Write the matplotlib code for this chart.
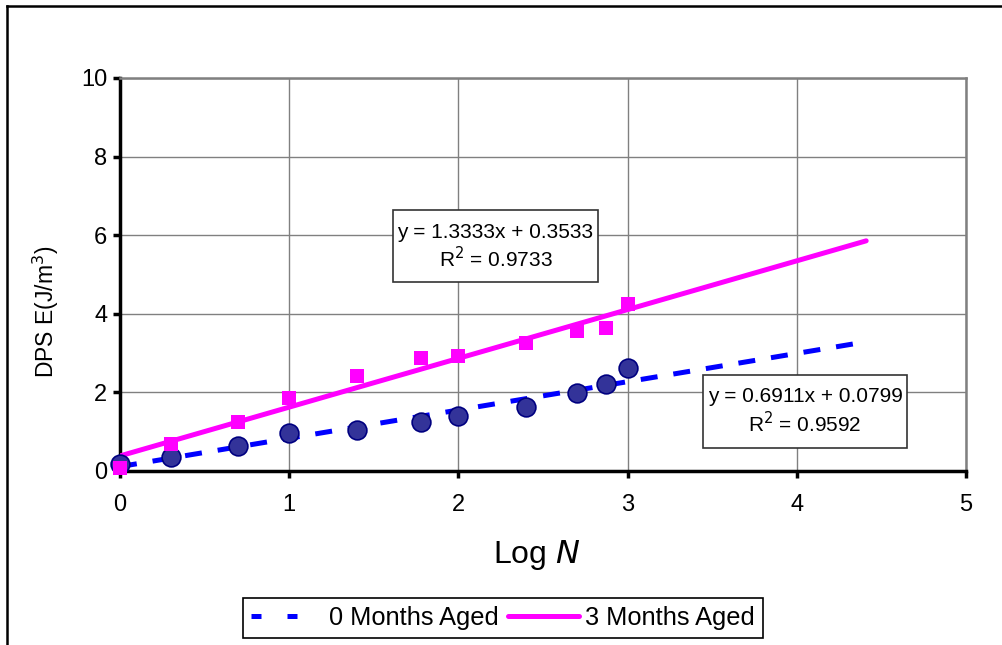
import matplotlib
matplotlib.use("Agg")
import matplotlib.pyplot as plt
from matplotlib.lines import Line2D
from matplotlib.patches import Rectangle
import numpy as np

# ---- data ----
log_n = [0.0, 0.301, 0.699, 1.0, 1.398, 1.778, 2.0, 2.398, 2.699, 2.875, 3.0]
aged0 = [0.16, 0.36, 0.62, 0.96, 1.04, 1.25, 1.40, 1.63, 1.98, 2.22, 2.61]
aged3 = [0.06, 0.68, 1.24, 1.84, 2.41, 2.86, 2.91, 3.25, 3.55, 3.63, 4.25]
eq0 = (0.6911, 0.0799, 0.9592)
eq3 = (1.3333, 0.3533, 0.9733)
trend_end = 4.41
series_names = ["0 Months Aged", "3 Months Aged"]
x_ticks = [0, 1, 2, 3, 4, 5]
y_ticks = [0, 2, 4, 6, 8, 10]

plt.rcParams['font.family'] = ['Liberation Sans', 'DejaVu Sans']

W, H = 1003, 645
fig = plt.figure(figsize=(W / 100, H / 100), dpi=100)
fig.patch.set_facecolor('white')

# outer chart border (left and top only visible)
fig.add_artist(Line2D([7 / W, 7 / W], [0, 1 - 6 / H], color='black', lw=1.8, transform=fig.transFigure))
fig.add_artist(Line2D([7 / W, 1.0], [1 - 6 / H, 1 - 6 / H], color='black', lw=1.8, transform=fig.transFigure))

left, right, top, bottom = 120 / W, 966 / W, 78 / H, 470.7 / H
ax = fig.add_axes([left, 1 - bottom, right - left, bottom - top])
ax.set_xlim(0, 5)
ax.set_ylim(0, 10)
ax.set_xticks(x_ticks)
ax.set_yticks(y_ticks)
ax.grid(True, color='#808080', lw=1.0)
ax.set_axisbelow(True)
for s in ['top', 'right']:
    ax.spines[s].set_color('#808080')
    ax.spines[s].set_linewidth(1.8)
for s in ['left', 'bottom']:
    ax.spines[s].set_color('black')
    ax.spines[s].set_linewidth(2.5)
ax.tick_params(direction='out', length=5, width=2.5, labelsize=17, color='black')
ax.tick_params(axis='x', pad=12)
ax.tick_params(axis='y', pad=4)

# trendlines (least-squares through the points)
xt = np.array([0.0, trend_end])
m0, b0 = np.polyfit(log_n, aged0, 1)
m3, b3 = np.polyfit(log_n, aged3, 1)
ax.plot(xt, m0 * xt + b0, color='#0000FF', lw=3.6, dashes=(3.4, 3.2),
        solid_capstyle='butt', dash_capstyle='butt', zorder=3)
ax.plot(xt, m3 * xt + b3, color='#FF00FF', lw=3.6,
        solid_capstyle='round', zorder=3)

# data points
ax.plot(log_n, aged0, 'o', ms=13.5, mfc='#333399', mec='#000080', mew=1.2,
        zorder=4, clip_on=False)
ax.plot(log_n, aged3, 's', ms=10.5, mfc='#FF00FF', mec='#FF00FF', mew=0,
        zorder=5, clip_on=False)

ax.set_xlabel('Log $\\it{N}$', fontsize=23)
ax.xaxis.set_label_coords((537 - 120) / 846, (470.7 - 555) / 392.7)
ax.xaxis.label.set_va('center')
ax.set_ylabel('DPS E(J/m$^{3}$)', fontsize=16.5)
ax.yaxis.set_label_coords((46 - 120) / 846, (470.7 - 312) / 392.7)
ax.yaxis.label.set_va('center')

# equation boxes
def eq_box(x0, y0, x1, y1, eq):
    fig.add_artist(Rectangle((x0 / W, 1 - y1 / H), (x1 - x0) / W, (y1 - y0) / H,
                             transform=fig.transFigure, facecolor='white',
                             edgecolor='#333333', lw=1.2, zorder=6))
    cx = (x0 + x1) / 2 / W
    fig.text(cx, 1 - (y0 + 22) / H, 'y = %.4fx + %.4f' % (eq[0], eq[1]),
             ha='center', va='center', fontsize=15, zorder=7)
    fig.text(cx, 1 - (y0 + 49) / H, 'R$^{2}$ = %.4f' % eq[2],
             ha='center', va='center', fontsize=15, zorder=7)

eq_box(393, 210, 598, 282, eq3)
eq_box(703, 375, 907, 448, eq0)

# legend
handles = [Line2D([], [], color='#0000FF', lw=3.6, dashes=(2.0, 5.2), dash_capstyle='butt'),
           Line2D([], [], color='#FF00FF', lw=3.6, solid_capstyle='round')]
leg = fig.legend(handles, series_names, ncol=2, loc='center',
                 bbox_to_anchor=(503 / W, 1 - 618 / H), fontsize=18.3,
                 frameon=True, fancybox=False, edgecolor='black', framealpha=1,
                 handlelength=2.8, handletextpad=0.25, columnspacing=0.37,
                 borderpad=0.3, borderaxespad=0)
leg.get_frame().set_linewidth(1.2)

fig.savefig('out.png', dpi=100, facecolor='white')
